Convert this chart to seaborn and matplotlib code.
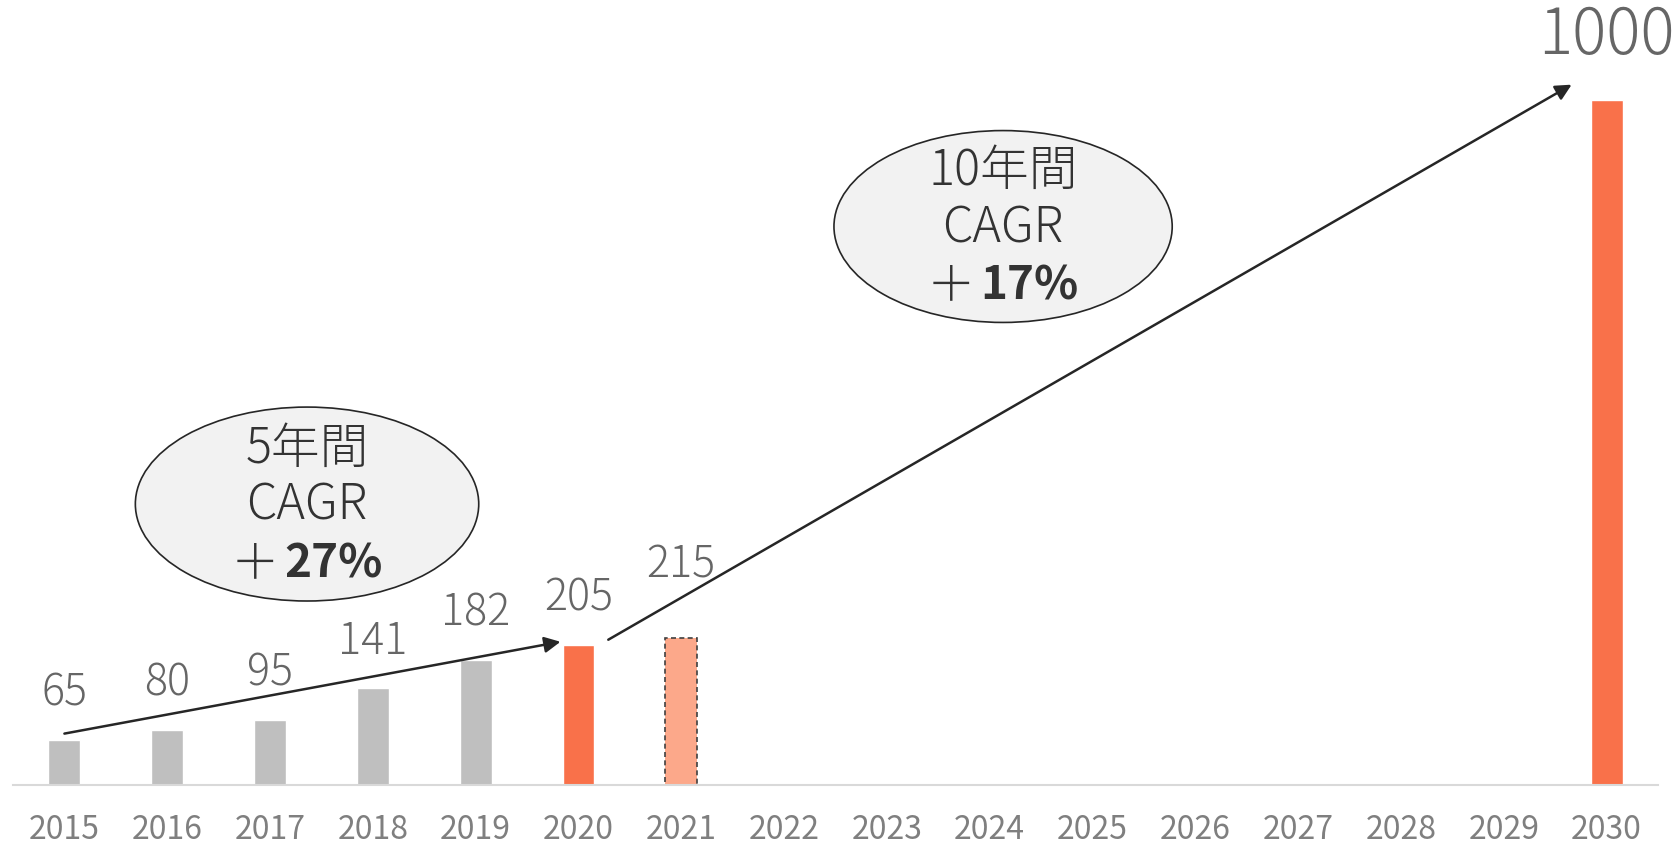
import numpy as np
import pandas as pd
import matplotlib
matplotlib.use("Agg")
import matplotlib.pyplot as plt
from matplotlib.patches import Ellipse
import seaborn as sns

# Market size by year (2022-2029 have no figures)
years = [str(y) for y in range(2015, 2031)]
values = [65, 80, 95, 141, 182, 205, 215,
          np.nan, np.nan, np.nan, np.nan, np.nan, np.nan, np.nan, np.nan, 1000]
bar_colors = ["#BFBFBF"] * 5 + ["#F9714A", "#FCA88A"] + ["#BFBFBF"] * 8 + ["#F9714A"]
cagr_5y = "27%"
cagr_10y = "17%"

sns.set_theme(style="white")
plt.rcParams["font.family"] = ["Noto Sans CJK JP", "DejaVu Sans"]

W, H = 1681, 845
fig = plt.figure(figsize=(W / 100, H / 100), dpi=100)
ax = fig.add_axes([13 / W, 59 / H, (1658 - 13) / W, 786 / H])

df = pd.DataFrame({"year": years, "value": values}).dropna()
palette = dict(zip(years, bar_colors))
bar_w = 0.31
sns.barplot(data=df, x="year", y="value", hue="year", order=years, hue_order=years,
            palette=palette, width=bar_w, saturation=1, legend=False, ax=ax)

ax.set_xlim(-0.5, len(years) - 0.5)
ax.set_ylim(0, 1147)
ax.set_xlabel("")
ax.set_ylabel("")
ax.set_yticks([])
for side in ["left", "right", "top"]:
    ax.spines[side].set_visible(False)
ax.spines["bottom"].set_color("#D9D9D9")
ax.spines["bottom"].set_linewidth(1.5)
ax.tick_params(axis="x", length=0, pad=20, labelsize=23, labelcolor="#7F7F7F")

# Forecast bar (2021) gets a dashed outline
for p in ax.patches:
    cx = p.get_x() + p.get_width() / 2
    if abs(cx - years.index("2021")) < 0.1 and p.get_height() > 0:
        p.set_edgecolor("#404040")
        p.set_linestyle((0, (3, 2)))
        p.set_linewidth(1.2)

# Value labels above the bars
extra_offset = {"2021": 74, "2030": 64}
for i, (y, v) in enumerate(zip(years, values)):
    if np.isnan(v):
        continue
    off_px = extra_offset.get(y, 48)
    size = 46 if y == "2030" else 31
    ax.annotate(f"{v:g}", (i, v), xytext=(0, off_px * 0.72), textcoords="offset points",
                ha="center", va="center", fontsize=size, color="#666666",
                fontweight="light", annotation_clip=False)

i15, i20, i21, i30 = (years.index(y) for y in ["2015", "2020", "2021", "2030"])
v15, v20, v30 = values[i15], values[i20], values[i30]

arrow_kw = dict(arrowstyle="-|>", color="#262626", lw=1.8, mutation_scale=24,
                shrinkA=0, shrinkB=0)
ax.annotate("", xy=(i20 - bar_w / 2 - 0.02, v20 + 4), xytext=(i15, v15 + 10),
            arrowprops=arrow_kw, annotation_clip=False)
ax.annotate("", xy=(i30 - 0.34, v30 + 22), xytext=(i20 + 0.29, v20 + 7),
            arrowprops=arrow_kw, annotation_clip=False)


def cagr_bubble(cx, cy, w, h, period, rate):
    ax.add_patch(Ellipse((cx, cy), w, h, facecolor="#F2F2F2", edgecolor="#262626",
                         lw=1.2, zorder=3, clip_on=False))
    kw = dict(textcoords="offset points", va="center", color="#333333",
              zorder=4, annotation_clip=False)
    ax.annotate(period, (cx, cy), xytext=(0, 56 * 0.72), ha="center",
                fontsize=35, fontweight="light", **kw)
    ax.annotate("CAGR", (cx, cy), xytext=(0, -1 * 0.72), ha="center",
                fontsize=35, fontweight="light", **kw)
    ax.annotate("＋", (cx, cy), xytext=(-28 * 0.72, -59 * 0.72), ha="right",
                fontsize=35, fontweight="light", **kw)
    ax.annotate(rate, (cx, cy), xytext=(-23 * 0.72, -59 * 0.72), ha="left",
                fontsize=33, fontweight="bold", **kw)


cagr_bubble(2.36, 410, 3.34, 283, "5年間", cagr_5y)
cagr_bubble(9.13, 815, 3.29, 280, "10年間", cagr_10y)

fig.savefig("out.png", dpi=100)
